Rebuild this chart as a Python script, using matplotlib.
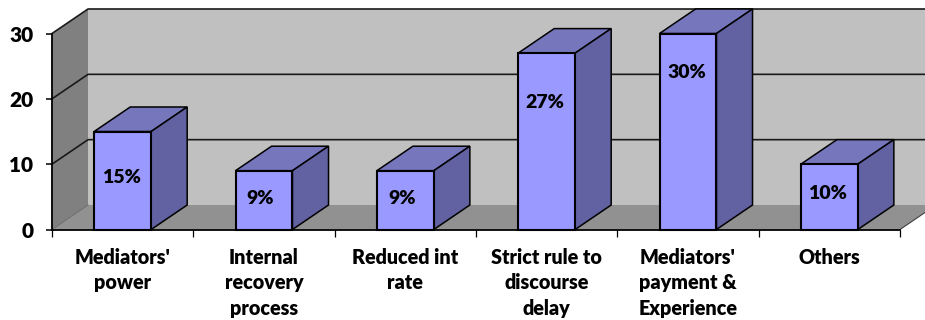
import matplotlib
matplotlib.use("Agg")
import matplotlib.pyplot as plt
from matplotlib.patches import Polygon

# --- Data ---
categories = ["Mediators'\npower", "Internal\nrecovery\nprocess", "Reduced int\nrate",
              "Strict rule to\ndiscourse\ndelay", "Mediators'\npayment &\nExperience", "Others"]
values = [15, 9, 9, 27, 30, 10]
y_ticks = [0, 10, 20, 30]

# where each percentage sits inside its bar
label_heights = [8.0, 4.8, 4.8, 19.5, 24.0, 5.5]
label_shifts = [-0.01, -0.03, -0.02, -0.01, -0.01, -0.01]

# --- Pseudo-3D settings (depth in data units) ---
depth_x = 0.255
depth_y = 3.75
bar_width = 0.403
ymax = 30

plt.rcParams["font.family"] = ["Lato", "DejaVu Sans"]
plt.rcParams["font.weight"] = "heavy"

fig = plt.figure(figsize=(9.25, 3.2), dpi=100)
ax = fig.add_axes([52 / 925, (320 - 229.5) / 320, 848 / 925, 196 / 320])
ax.set_xlim(0, len(categories))
ax.set_ylim(0, ymax)
ax.patch.set_visible(False)


def face(points, color, edge="none", lw=0, z=1):
    ax.add_patch(Polygon(points, closed=True, facecolor=color, edgecolor=edge,
                         linewidth=lw, zorder=z, clip_on=False, joinstyle="miter"))


n = len(categories)

# --- Walls and floor ---
face([(0, 0), (depth_x, depth_y), (depth_x, ymax + depth_y), (0, ymax)], "#808080")
face([(depth_x, depth_y), (n + depth_x, depth_y), (n + depth_x, ymax + depth_y), (depth_x, ymax + depth_y)], "#C0C0C0")
face([(0, 0), (n, 0), (n + depth_x, depth_y), (depth_x, depth_y)], "#919191")

# --- Gridlines on the back wall and the left wall ---
for t in y_ticks[1:]:
    ax.plot([0, depth_x, n + depth_x], [t, t + depth_y, t + depth_y], color="#1a1a1a",
            lw=1.2, zorder=2, clip_on=False)
ax.plot([0, depth_x], [0, depth_y], color="#707070", lw=0.8, zorder=2, clip_on=False)
ax.plot([n, n + depth_x], [0, depth_y], color="#404040", lw=0.8, zorder=2, clip_on=False)

# --- Bars ---
for i, v in enumerate(values):
    left = i + 0.5 - bar_width / 2
    right = left + bar_width
    face([(left, v), (right, v), (right + depth_x, v + depth_y), (left + depth_x, v + depth_y)],
         "#7676BD", "black", 1.1, 3)
    face([(right, 0), (right + depth_x, depth_y), (right + depth_x, v + depth_y), (right, v)],
         "#6262A2", "black", 1.1, 3)
    face([(left, 0), (right, 0), (right, v), (left, v)], "#9999FF", "black", 1.5, 4)
    ax.text(i + 0.5 + label_shifts[i], label_heights[i], f"{v}%", ha="center", va="center",
            fontsize=14, fontweight="heavy", color="black", zorder=5)

# --- Axes ---
for side in ["top", "right"]:
    ax.spines[side].set_visible(False)
for side in ["left", "bottom"]:
    ax.spines[side].set_linewidth(1.3)
    ax.spines[side].set_zorder(6)

ax.set_yticks(y_ticks)
ax.tick_params(axis="y", length=4.5, width=1.1, pad=9, labelsize=15)

# ticks mark the category boundaries, labels sit between them
ax.set_xticks(range(n + 1))
ax.set_xticklabels([])
ax.set_xticks([i + 0.5 for i in range(n)], minor=True)
ax.set_xticklabels(categories, minor=True, fontsize=14.2, fontweight="heavy", linespacing=1.41)
ax.tick_params(axis="x", which="major", length=5, width=0.9)
ax.tick_params(axis="x", which="minor", length=0, pad=13.2)

fig.savefig("out.png", dpi=100)
